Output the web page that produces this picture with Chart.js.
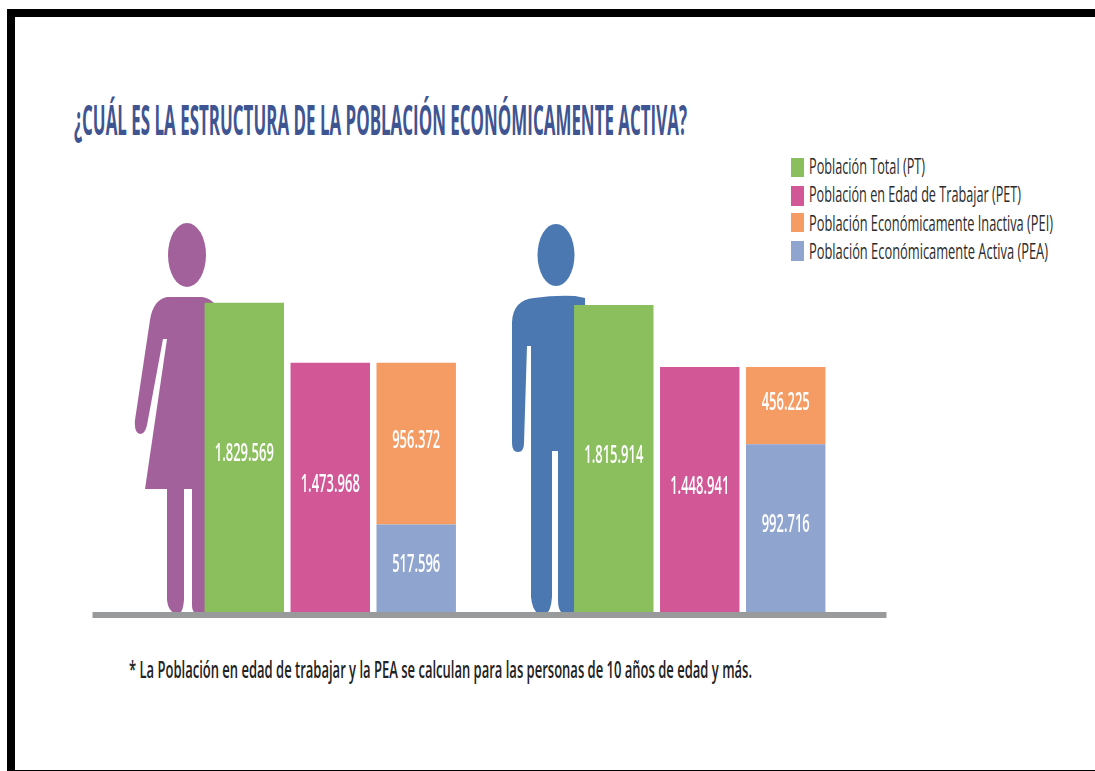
<!DOCTYPE html>
<html lang="es">
<head>
<meta charset="utf-8">
<title>Estructura de la Población Económicamente Activa</title>
<script src="https://cdn.jsdelivr.net/npm/chart.js@4/dist/chart.umd.min.js"></script>
<style>
    html, body { margin: 0; padding: 0; background: #fff; }
    #page { position: relative; width: 1095px; height: 771px; overflow: hidden; }
    #page svg, #page canvas { position: absolute; left: 0; top: 0; }
    text { font-family: 'Open Sans', sans-serif; }
</style>
</head>
<body>
<div id="page">
    <svg id="backdrop" width="1095" height="771" xmlns="http://www.w3.org/2000/svg">
        <!-- black frame -->
        <rect x="7" y="9" width="1088" height="8" fill="#000"/>
        <rect x="7" y="9" width="8" height="762" fill="#000"/>
        <rect x="15" y="770" width="1080" height="1" fill="#000"/>

        <text x="74" y="135" font-size="42" font-weight="700" fill="#3f5592"
              textLength="613" lengthAdjust="spacingAndGlyphs">¿CUÁL ES LA ESTRUCTURA DE LA POBLACIÓN ECONÓMICAMENTE ACTIVA?</text>

        <!-- woman -->
        <ellipse cx="187" cy="255" rx="19" ry="32" fill="#a2619b"/>
        <path fill="#a2619b" d="M167 297 L202 297 Q209 298 214 303 L214 613 L195 613 Q192 611 192 605 L192 489 L184 489 L184 600
            Q183 611 180 613 L174 613 Q168 610 167 600 L167 489 L145 489 L167 339 L163 339 L147 425 Q145 434 140 434
            Q134 433 135 420 L150 320 Q153 300 167 297 Z"/>

        <!-- man -->
        <ellipse cx="556" cy="255" rx="18.5" ry="31" fill="#4c78b2"/>
        <path fill="#4c78b2" d="M534 298 Q555 295 575 296 L585 298 L585 613 L562 613 Q558 610 558 600 L558 451 L552 451 L552 597
            Q551 610 547 613 L537 613 Q532 608 531 597 L531 346 L527 346 L524 443 Q524 452 518 452 Q512 452 512 443
            L512 322 Q513 300 534 298 Z"/>

        <text x="129" y="678" font-size="23" font-weight="600" fill="#222"
              textLength="623" lengthAdjust="spacingAndGlyphs">* La Población en edad de trabajar y la PEA se calculan para las personas de 10 años de edad y más.</text>

        <g id="legendBox"></g>
    </svg>
    <canvas id="poblacionChart" width="1095" height="771"></canvas>
</div>

<script>
    // Categories and series, as printed on the bars
    const sexos = ['Mujeres', 'Hombres'];
    const poblacionTotal = [1829569, 1815914];
    const poblacionEdadTrabajar = [1473968, 1448941];
    const poblacionInactiva = [956372, 456225];
    const poblacionActiva = [517596, 992716];

    const nombrePT = 'Población Total (PT)';
    const nombrePET = 'Población en Edad de Trabajar (PET)';
    const nombrePEI = 'Población Económicamente Inactiva (PEI)';
    const nombrePEA = 'Población Económicamente Activa (PEA)';

    const VERDE = '#8bbf5e';
    const MAGENTA = '#d15797';
    const NARANJA = '#f59c65';
    const AZUL = '#8fa4ce';

    const ejeMax = 3620000;

    // es-style thousands separator
    function formatear(n) {
        return String(n).replace(/\B(?=(\d{3})+$)/g, '.');
    }

    // Value printed in white in the middle of each bar, condensed horizontally
    const etiquetasBarras = {
        id: 'etiquetasBarras',
        afterDatasetsDraw(chart) {
            const ctx = chart.ctx;
            ctx.save();
            ctx.font = '600 25px "Open Sans", sans-serif';
            ctx.fillStyle = '#fff';
            ctx.textAlign = 'center';
            ctx.textBaseline = 'middle';
            chart.data.datasets.forEach((ds, i) => {
                chart.getDatasetMeta(i).data.forEach((bar, j) => {
                    const texto = formatear(ds.data[j]);
                    const centro = bar.getCenterPoint();
                    ctx.fillText(texto, centro.x, centro.y - 3, ctx.measureText(texto).width * 0.52);
                });
            });
            ctx.restore();
        }
    };

    // Grey floor line, wider than the plot area on the left
    const lineaSuelo = {
        id: 'lineaSuelo',
        afterDraw(chart) {
            const ctx = chart.ctx;
            const area = chart.chartArea;
            ctx.save();
            ctx.fillStyle = '#999a9b';
            ctx.fillRect(area.left - 53, area.bottom, area.right - area.left + 55, 6);
            ctx.restore();
        }
    };

    const chart = new Chart(document.getElementById('poblacionChart').getContext('2d'), {
        type: 'bar',
        data: {
            labels: sexos,
            datasets: [
                { label: nombrePT, data: poblacionTotal, backgroundColor: VERDE, stack: 'pt' },
                { label: nombrePET, data: poblacionEdadTrabajar, backgroundColor: MAGENTA, stack: 'pet' },
                // PEA sits at the bottom of the third column
                { label: nombrePEA, data: poblacionActiva, backgroundColor: AZUL, stack: 'pei' },
                { label: nombrePEI, data: poblacionInactiva, backgroundColor: NARANJA, stack: 'pei' }
            ]
        },
        options: {
            responsive: false,
            animation: false,
            categoryPercentage: 0.698,
            barPercentage: 0.924,
            layout: {
                padding: { left: 145.5, right: 210.5, top: 0, bottom: 159 }
            },
            plugins: {
                legend: { display: false },
                tooltip: { enabled: false }
            },
            scales: {
                x: { display: false, stacked: true },
                y: { display: false, stacked: true, beginAtZero: true, max: ejeMax }
            }
        },
        plugins: [etiquetasBarras, lineaSuelo]
    });

    // Legend on the top right, in PT / PET / PEI / PEA order
    const svgNS = 'http://www.w3.org/2000/svg';
    const legendBox = document.getElementById('legendBox');
    const ordenLeyenda = [0, 1, 3, 2];
    const filaY = [158, 186, 213, 241];
    const filaAlto = [19, 20, 19, 20];
    const textoY = [174, 202, 231, 259];
    const textoAncho = [116, 212, 244, 239];
    ordenLeyenda.forEach((idx, fila) => {
        const ds = chart.data.datasets[idx];
        const cuadro = document.createElementNS(svgNS, 'rect');
        cuadro.setAttribute('x', 791);
        cuadro.setAttribute('y', filaY[fila]);
        cuadro.setAttribute('width', 13);
        cuadro.setAttribute('height', filaAlto[fila]);
        cuadro.setAttribute('fill', ds.backgroundColor);
        legendBox.appendChild(cuadro);

        const texto = document.createElementNS(svgNS, 'text');
        texto.setAttribute('x', 809);
        texto.setAttribute('y', textoY[fila]);
        texto.setAttribute('font-size', 22);
        texto.setAttribute('fill', '#2b2b2b');
        texto.setAttribute('textLength', textoAncho[fila]);
        texto.setAttribute('lengthAdjust', 'spacingAndGlyphs');
        texto.textContent = ds.label;
        legendBox.appendChild(texto);
    });
</script>
</body>
</html>
